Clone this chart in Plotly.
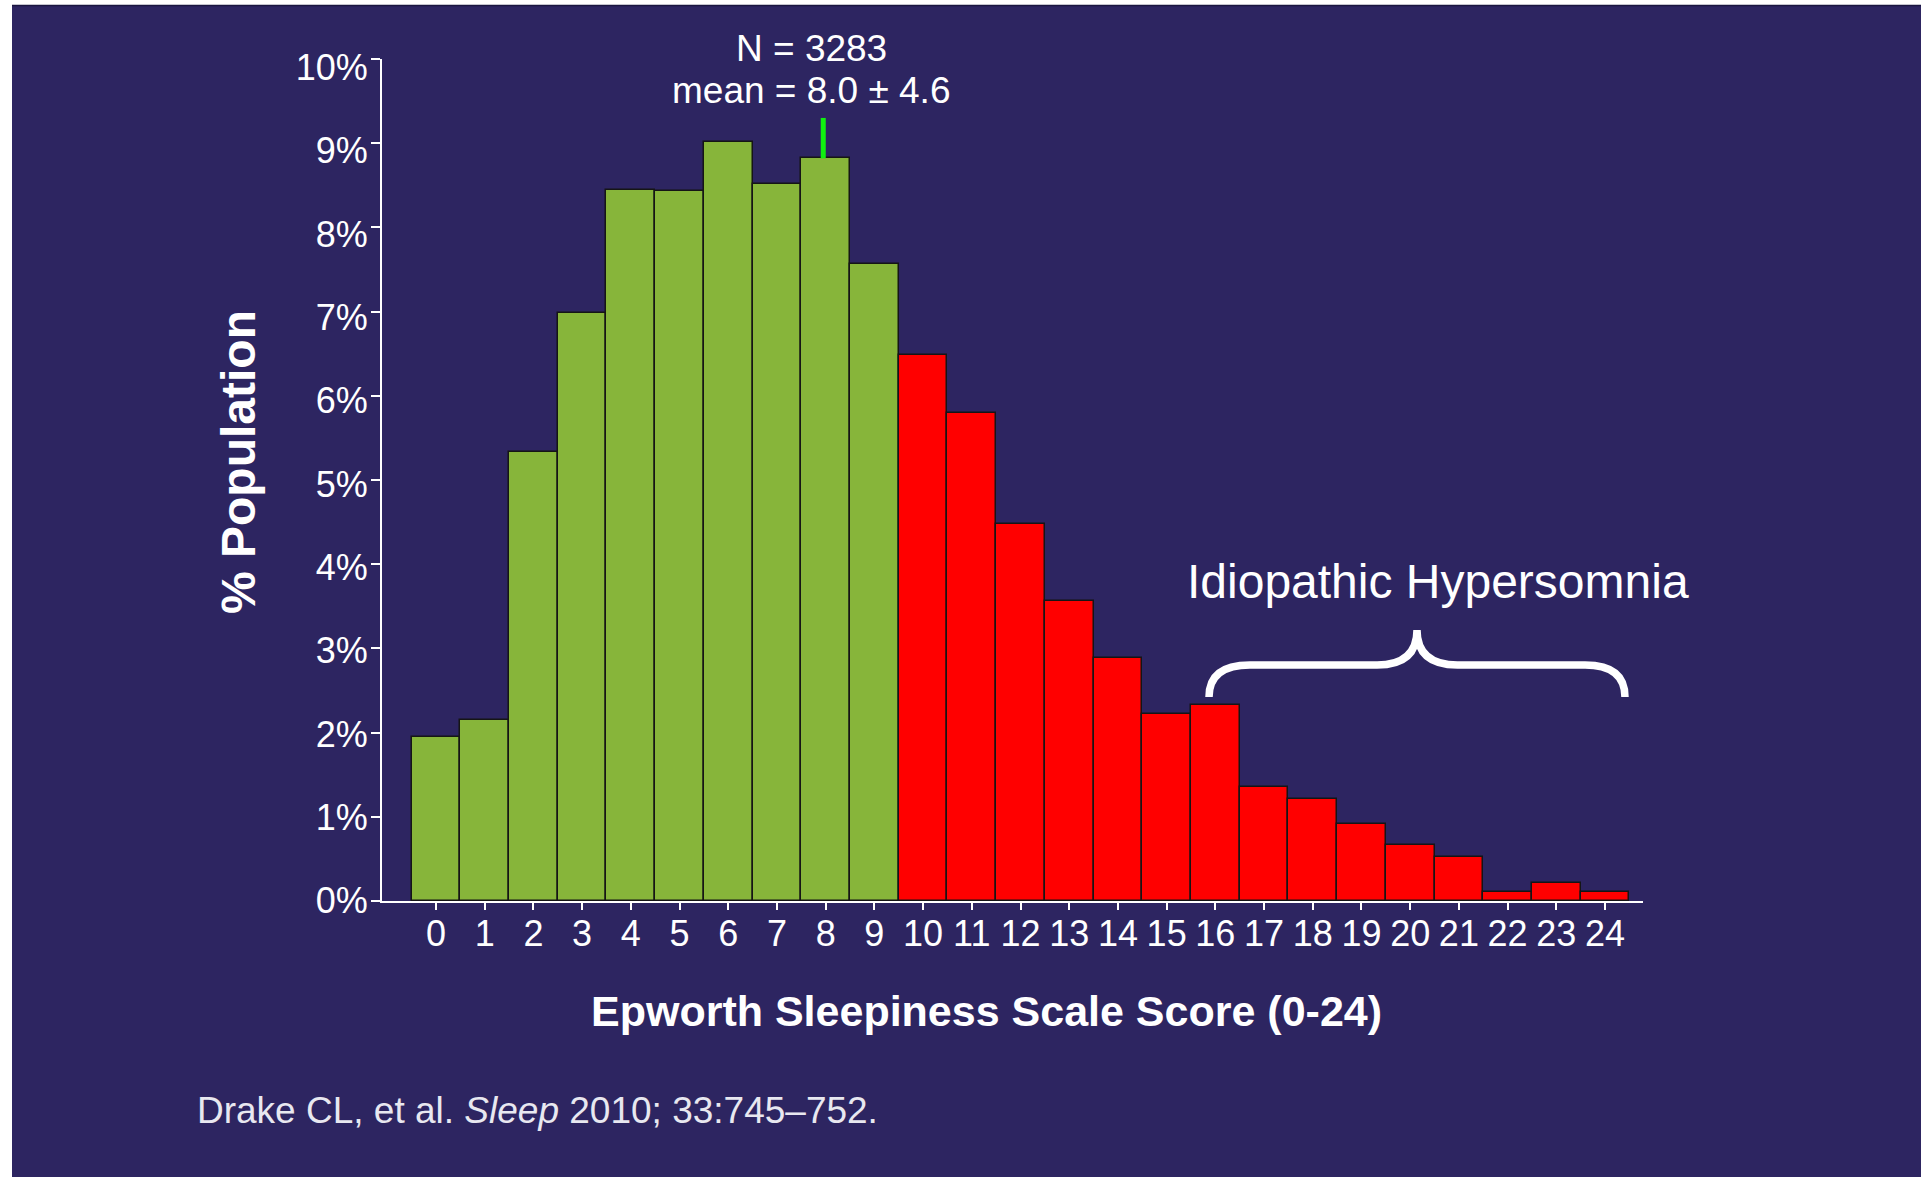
import plotly.graph_objects as go

# ---------------- data ----------------
SCORES = list(range(25))
PERCENT = [1.95, 2.15, 5.33, 6.98, 8.45, 8.43, 9.02, 8.52, 8.82, 7.57,
           6.48, 5.80, 4.48, 3.56, 2.89, 2.22, 2.33, 1.35, 1.21, 0.91,
           0.67, 0.52, 0.11, 0.21, 0.11]
Y_TICKS = list(range(0, 11))
N_TOTAL = 3283
MEAN = 8.0
SD = 4.6
CUTOFF = 10  # scores >= cutoff drawn in red

# ---------------- styles ----------------
W, H = 1921, 1177
ML, MR, MT, MB = 382, 278, 59, 276
PW, PH = W - ML - MR, H - MT - MB
NAVY = "#2D2561"
GREEN = "#87B53A"
RED = "#FF0000"
FONT = "Liberation Sans, Arial, sans-serif"


def px(x):
    return (x - ML) / PW


def py(y):
    return (H - MB - y) / PH


colors = [RED if s >= CUTOFF else GREEN for s in SCORES]

fig = go.Figure()
fig.add_trace(go.Bar(
    x=SCORES, y=PERCENT,
    marker=dict(color=colors, line=dict(color="#151515", width=1.5)),
    width=1.0,
    hoverinfo="x+y",
))
# invisible companion trace so the label axis (slightly spread, as in the slide) renders
fig.add_trace(go.Scatter(
    x=SCORES, y=PERCENT, yaxis="y2", mode="markers",
    marker=dict(opacity=0), hoverinfo="skip", showlegend=False,
))

# mean marker line above the bar at the mean score
mean_idx = SCORES.index(int(round(MEAN)))
fig.add_shape(type="line", xref="x", yref="y",
              x0=MEAN - 0.05, x1=MEAN - 0.05,
              y0=PERCENT[mean_idx], y1=9.30,
              line=dict(color="#10F010", width=5))

# curly brace over the hypersomnia region (data coordinates)
bx = [15.87, 16.71, 19.32, 20.14, 20.97, 23.59, 24.41]
by_end, by_mid, by_tip = 2.424, 2.804, 3.22
path = (f"M {bx[0]},{by_end} Q {bx[0]},{by_mid} {bx[1]},{by_mid} "
        f"L {bx[2]},{by_mid} Q {bx[3]},{by_mid} {bx[3]},{by_tip} "
        f"Q {bx[3]},{by_mid} {bx[4]},{by_mid} "
        f"L {bx[5]},{by_mid} Q {bx[6]},{by_mid} {bx[6]},{by_end}")
fig.add_shape(type="path", xref="x", yref="y", path=path,
              line=dict(color="white", width=7.5))

# page white margins (slide edge)
fig.add_shape(type="rect", xref="paper", yref="paper",
              x0=px(0), x1=px(12), y0=py(H), y1=py(0),
              fillcolor="white", line=dict(width=0), layer="below")
fig.add_shape(type="rect", xref="paper", yref="paper",
              x0=px(0), x1=px(W), y0=py(5), y1=py(0),
              fillcolor="white", line=dict(width=0), layer="below")
fig.add_shape(type="line", xref="paper", yref="paper",
              x0=px(12), x1=px(W), y0=py(5.5), y1=py(5.5),
              line=dict(color="#1A1640", width=1.5), layer="below")

ann = []
ann.append(dict(text=f"N = {N_TOTAL}", x=px(811), y=py(48), xref="paper", yref="paper",
                showarrow=False, xanchor="center", yanchor="middle",
                font=dict(family=FONT, size=37, color="white")))
ann.append(dict(text=f"mean = {MEAN:.1f} ± {SD:.1f}", x=px(811), y=py(90), xref="paper", yref="paper",
                showarrow=False, xanchor="center", yanchor="middle",
                font=dict(family=FONT, size=37, color="white")))
ann.append(dict(text="Idiopathic Hypersomnia", x=px(1438), y=py(581), xref="paper", yref="paper",
                showarrow=False, xanchor="center", yanchor="middle",
                font=dict(family=FONT, size=48, color="white")))
ann.append(dict(text="<b>Epworth Sleepiness Scale Score (0-24)</b>", x=px(986), y=py(1011),
                xref="paper", yref="paper", showarrow=False, xanchor="center", yanchor="middle",
                font=dict(family=FONT, size=43, color="white")))
ann.append(dict(text="<b>% Population</b>", x=px(238), y=py(462), xref="paper", yref="paper",
                showarrow=False, xanchor="center", yanchor="middle", textangle=-90,
                font=dict(family=FONT, size=48, color="white")))
ann.append(dict(text="Drake CL, et al. <i>Sleep</i> 2010; 33:745–752.", x=px(195), y=py(1110),
                xref="paper", yref="paper", showarrow=False, xanchor="left", yanchor="middle",
                font=dict(family=FONT, size=37, color="#E8E8F0")))

fig.update_layout(
    width=W, height=H,
    margin=dict(l=ML, r=MR, t=MT, b=MB, pad=0),
    paper_bgcolor=NAVY, plot_bgcolor=NAVY,
    showlegend=False, bargap=0,
    annotations=ann,
    font=dict(family=FONT, color="white"),
    xaxis=dict(range=[-1.109, 24.78], tickmode="array", tickvals=SCORES,
               ticktext=[str(s) for s in SCORES],
               showline=True, linecolor="white", linewidth=2,
               ticks="outside", ticklen=7, tickwidth=2, tickcolor="white",
               ticklabelstandoff=-7,
               tickfont=dict(family=FONT, size=36, color="white"),
               showgrid=False, zeroline=False, fixedrange=True),
    yaxis=dict(range=[0, 10], tickmode="array", tickvals=Y_TICKS,
               showticklabels=False,
               showline=True, linecolor="white", linewidth=2,
               ticks="outside", ticklen=9, tickwidth=2, tickcolor="white",
               showgrid=False, zeroline=False, fixedrange=True),
    yaxis2=dict(overlaying="y", side="left", anchor="x",
                range=[-0.002, 10.101], tickmode="array", tickvals=Y_TICKS,
                ticktext=[f"{t}%" for t in Y_TICKS],
                showline=False, ticks="outside", ticklen=9, tickwidth=2,
                tickcolor="rgba(0,0,0,0)", ticklabelstandoff=-3,
                tickfont=dict(family=FONT, size=36, color="white"),
                showgrid=False, zeroline=False, fixedrange=True),
)

fig.write_html("out.html", config={"displayModeBar": False})
